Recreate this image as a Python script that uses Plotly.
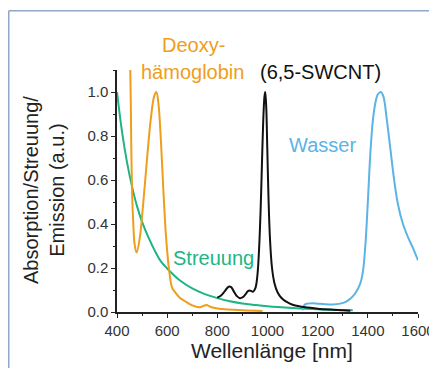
import plotly.graph_objects as go

# Deoxy-haemoglobin absorption
hb_x = [453, 455, 457, 460, 465, 470, 478, 490, 505, 520, 535, 548, 557, 565, 575, 585, 595, 603,
        610, 620, 635, 650, 670, 700, 730, 745, 757, 770, 790, 830, 900, 980]
hb_y = [1.1, 0.95, 0.75, 0.55, 0.4, 0.31, 0.27, 0.33, 0.5, 0.7, 0.88, 0.98, 1.0, 0.95, 0.78, 0.55,
        0.35, 0.24, 0.17, 0.11, 0.085, 0.065, 0.05, 0.03, 0.022, 0.028, 0.032, 0.025, 0.018, 0.012,
        0.008, 0.005]

# Scattering
sc_x = [400, 420, 440, 460, 480, 500, 525, 550, 575, 600, 650, 700, 750, 800, 850, 900, 950,
        1000, 1100, 1200, 1300, 1340]
sc_y = [1.0, 0.82, 0.68, 0.57, 0.48, 0.41, 0.34, 0.28, 0.23, 0.198, 0.144, 0.107, 0.081, 0.063,
        0.049, 0.039, 0.032, 0.026, 0.018, 0.012, 0.009, 0.008]

# (6,5)-SWCNT emission
cnt_x = [800, 815, 830, 845, 855, 865, 878, 890, 900, 912, 922, 932, 942, 952, 960, 967, 973, 978,
         983, 988, 991, 995, 999, 1004, 1010, 1018, 1028, 1040, 1055, 1075, 1100, 1130, 1160, 1200,
         1250, 1300, 1330]
cnt_y = [0.065, 0.075, 0.095, 0.115, 0.113, 0.095, 0.072, 0.063, 0.066, 0.08, 0.095, 0.097, 0.092,
         0.11, 0.17, 0.3, 0.48, 0.68, 0.87, 0.98, 1.0, 0.93, 0.75, 0.52, 0.33, 0.2, 0.13, 0.09, 0.065,
         0.047, 0.033, 0.025, 0.02, 0.015, 0.011, 0.008, 0.006]

# Water absorption
w_x = [1140, 1148, 1160, 1180, 1200, 1230, 1260, 1290, 1310, 1330, 1350, 1370, 1380, 1390, 1400,
       1410, 1420, 1430, 1440, 1452, 1462, 1475, 1490, 1505, 1520, 1540, 1560, 1580, 1600]
w_y = [0.008, 0.033, 0.038, 0.040, 0.038, 0.035, 0.034, 0.038, 0.045, 0.06, 0.085, 0.13, 0.18, 0.3,
       0.5, 0.72, 0.87, 0.95, 0.99, 1.0, 0.98, 0.88, 0.74, 0.6, 0.49, 0.4, 0.34, 0.29, 0.235]

x_ticks = [400, 600, 800, 1000, 1200, 1400, 1600]
y_ticks = [0.0, 0.2, 0.4, 0.6, 0.8, 1.0]

ORANGE = "#EE9E1B"
GREEN = "#1DB584"
BLUE = "#5BB4E5"
BLACK = "#111111"
FONT = "Liberation Sans, Arial, sans-serif"

OFF = 8  # page body margin
W, H = 437 - OFF, 376 - 2 * OFF
L, T = 117 - OFF, 70 - OFF
pw, ph = 301, 242
R, B = W - L - pw, H - T - ph


def px(xp):
    return (xp - OFF - L) / pw


def py(yp):
    return (T + ph - (yp - OFF)) / ph


fig = go.Figure()
fig.add_trace(go.Scatter(x=sc_x, y=sc_y, mode="lines", line=dict(color=GREEN, width=2, shape="spline")))
fig.add_trace(go.Scatter(x=w_x, y=w_y, mode="lines", line=dict(color=BLUE, width=2, shape="spline")))
fig.add_trace(go.Scatter(x=hb_x, y=hb_y, mode="lines", line=dict(color=ORANGE, width=2, shape="spline")))
fig.add_trace(go.Scatter(x=cnt_x, y=cnt_y, mode="lines", line=dict(color=BLACK, width=2, shape="spline")))

ann = [
    dict(text="Deoxy-", x=193, y=45, color=ORANGE),
    dict(text="hämoglobin", x=192, y=72, color=ORANGE),
    dict(text="(6,5-SWCNT)", x=320, y=72, color=BLACK),
    dict(text="Wasser", x=322, y=145, color=BLUE),
    dict(text="Streuung", x=213, y=258, color=GREEN),
]
for a in ann:
    fig.add_annotation(text=a["text"], xref="paper", yref="paper",
                       x=px(a["x"]), y=py(a["y"]),
                       xanchor="center", yanchor="middle", showarrow=False,
                       font=dict(family=FONT, size=20, color=a["color"]))

# y-axis title
fig.add_annotation(text="Absorption/Streuung/<br>Emission (a.u.)", xref="paper", yref="paper",
                   x=px(44), y=py(190), textangle=-90,
                   xanchor="center", yanchor="middle", showarrow=False,
                   font=dict(family=FONT, size=20, color="#222222"))

# x-axis title
fig.add_annotation(text="Wellenlänge [nm]", xref="paper", yref="paper",
                   x=px(272), y=py(350), xanchor="center", yanchor="middle", showarrow=False,
                   font=dict(family=FONT, size=21, color="#222222"))

# frame border (left and top edges)
fig.add_shape(type="line", xref="paper", yref="paper",
              x0=px(8.75), x1=px(8.75), y0=py(400), y1=py(10.75),
              line=dict(color="#8FA8C8", width=1.5), layer="below")
fig.add_shape(type="line", xref="paper", yref="paper",
              x0=px(8.75), x1=px(460), y0=py(10.75), y1=py(10.75),
              line=dict(color="#8FA8C8", width=1.5), layer="below")

fig.update_layout(
    width=W, height=H, margin=dict(l=L, r=R, t=T, b=B),
    paper_bgcolor="white", plot_bgcolor="white", showlegend=False,
    font=dict(family=FONT, color="#222222"),
    xaxis=dict(range=[400, 1600], tickvals=x_ticks, ticks="outside", ticklen=4, tickwidth=1.2,
               tickcolor="#222", showline=True, linecolor="#222", linewidth=1.5, showgrid=False,
               zeroline=False, tickfont=dict(size=15, color="#333333"), automargin=False,
               minor=dict(dtick=100, ticks="outside", ticklen=2, tickcolor="#222")),
    yaxis=dict(range=[0, 1.1], tickvals=y_ticks, ticktext=["0.0", "0.2", "0.4", "0.6", "0.8", "1.0"],
               ticks="outside", ticklen=4, tickwidth=1.2, tickcolor="#222", automargin=False,
               showline=True, linecolor="#222", linewidth=1.5, showgrid=False, zeroline=False,
               tickfont=dict(size=15, color="#333333"),
               minor=dict(dtick=0.1, ticks="outside", ticklen=2, tickcolor="#222")),
)

fig.write_html("out.html")
